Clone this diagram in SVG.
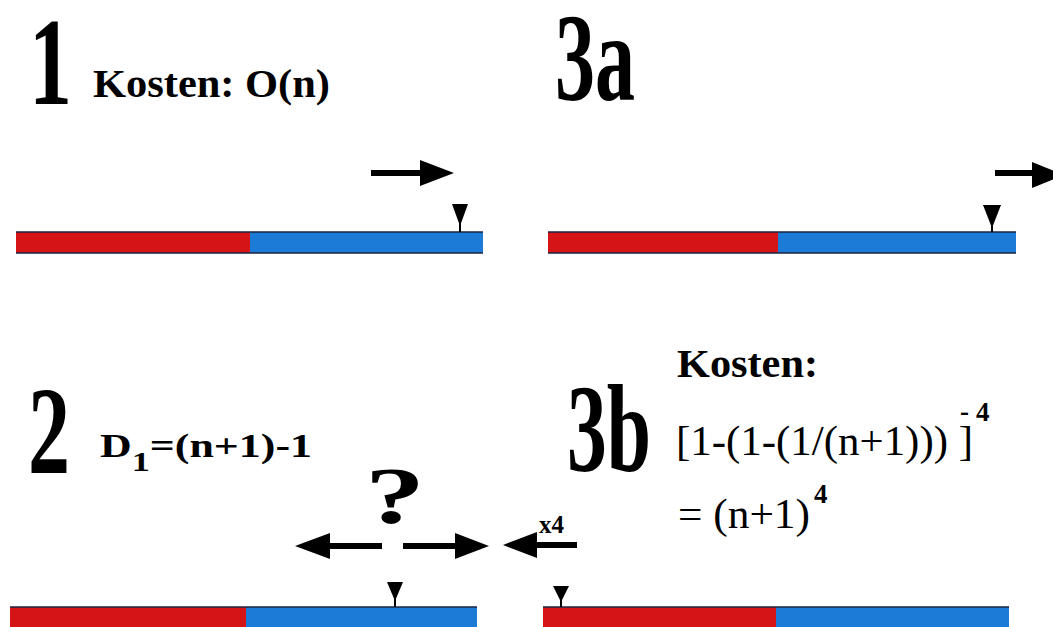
<svg xmlns="http://www.w3.org/2000/svg" width="1053" height="627" viewBox="0 0 1053 627">
<style>
.big{font-family:"Liberation Serif",serif;font-weight:bold;font-size:124px;fill:#000}
.lbl{font-family:"Liberation Serif",serif;font-weight:bold;fill:#000}
.reg{font-family:"Liberation Serif",serif;fill:#000}
.red{fill:#d51515}
.blue{fill:#1c7bd6}
.edge{stroke:#1a2440;stroke-width:1.5}
.ar{fill:#000}
</style>
<rect width="1053" height="627" fill="#fff"/>

<g id="panel1">
<text class="big" x="29" y="104" textLength="43" lengthAdjust="spacingAndGlyphs">1</text>
<text class="lbl" x="93" y="97" font-size="39" textLength="237" lengthAdjust="spacingAndGlyphs">Kosten: O(n)</text>
<rect class="red" x="16" y="232" width="234" height="21"/>
<rect class="blue" x="250" y="232" width="233" height="21"/>
<line class="edge" x1="16" y1="232" x2="483" y2="232"/>
<line class="edge" x1="16" y1="253" x2="483" y2="253"/>
<polygon class="ar" points="452,204 468,204 460,226"/>
<line x1="460" y1="220" x2="460" y2="232" stroke="#000" stroke-width="2"/>
</g>

<g id="panel3a">
<text class="big" x="555" y="100" textLength="80" lengthAdjust="spacingAndGlyphs">3a</text>
<rect class="red" x="548" y="232" width="230" height="21"/>
<rect class="blue" x="778" y="232" width="238" height="21"/>
<line class="edge" x1="548" y1="232" x2="1016" y2="232"/>
<line class="edge" x1="548" y1="253" x2="1016" y2="253"/>
<polygon class="ar" points="983,205 1001,205 992,228"/>
<line x1="992" y1="222" x2="992" y2="232" stroke="#000" stroke-width="2"/>
</g>

<g id="panel2">
<text class="big" x="28" y="473" textLength="42" lengthAdjust="spacingAndGlyphs">2</text>
<text class="lbl" x="100" y="457" font-size="34" textLength="212" lengthAdjust="spacingAndGlyphs">D<tspan font-size="28" dy="14">1</tspan><tspan dy="-14">=(n+1)-1</tspan></text>
<text class="lbl" x="365" y="523" font-size="80" textLength="60" lengthAdjust="spacingAndGlyphs">?</text>
<rect class="red" x="10" y="607" width="236" height="25"/>
<rect class="blue" x="246" y="607" width="231" height="25"/>
<line class="edge" x1="10" y1="607" x2="477" y2="607"/>
<polygon class="ar" points="387,582 403,582 395,601"/>
<line x1="395" y1="596" x2="395" y2="607" stroke="#000" stroke-width="2"/>
</g>

<g id="panel3b">
<text class="big" x="567" y="471" textLength="84" lengthAdjust="spacingAndGlyphs">3b</text>
<text class="lbl" x="677" y="377" font-size="41" textLength="141" lengthAdjust="spacingAndGlyphs">Kosten:</text>
<text class="reg" x="676" y="455" font-size="42" textLength="297" lengthAdjust="spacingAndGlyphs">[1-(1-(1/(n+1))) ]</text>
<text class="lbl" x="960" y="420" font-size="27">-</text>
<text class="lbl" x="976" y="421" font-size="27">4</text>
<text class="reg" x="678" y="528" font-size="42" textLength="132" lengthAdjust="spacingAndGlyphs">= (n+1)</text>
<text class="lbl" x="814" y="503" font-size="27">4</text>
<text class="lbl" x="539" y="533" font-size="25">x4</text>
<rect class="red" x="543" y="607" width="233" height="25"/>
<rect class="blue" x="776" y="607" width="233" height="25"/>
<line class="edge" x1="543" y1="607" x2="1009" y2="607"/>
<polygon class="ar" points="553,586 569,586 561,602"/>
<line x1="561" y1="598" x2="561" y2="607" stroke="#000" stroke-width="2"/>
</g>

<g id="connectors">
<line x1="371" y1="173" x2="424" y2="173" stroke="#000" stroke-width="6"/>
<polygon class="ar" points="420,160 454,173 420,186"/>
<line x1="995" y1="173" x2="1036" y2="173" stroke="#000" stroke-width="6"/>
<polygon class="ar" points="1032,162 1064,175 1032,188"/>
<line x1="326" y1="546" x2="382" y2="546" stroke="#000" stroke-width="6"/>
<polygon class="ar" points="330,533 295,546 330,559"/>
<line x1="403" y1="546" x2="458" y2="546" stroke="#000" stroke-width="6"/>
<polygon class="ar" points="455,533 489,546 455,559"/>
<line x1="533" y1="545" x2="577" y2="545" stroke="#000" stroke-width="6"/>
<polygon class="ar" points="537,532 503,545 537,558"/>
</g>
</svg>
